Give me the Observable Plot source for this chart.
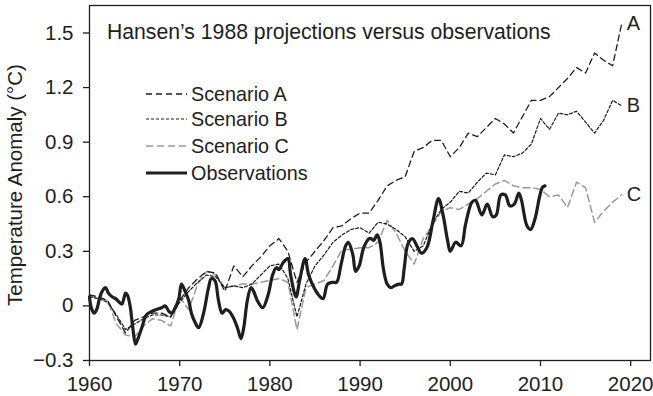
<!DOCTYPE html>
<html><head><meta charset="utf-8">
<script src="https://cdn.jsdelivr.net/npm/d3@7"></script>
<script src="https://cdn.jsdelivr.net/npm/@observablehq/plot@0.6"></script>
<style>
html,body{margin:0;padding:0;background:#fff;}
#chart{position:relative;width:653px;height:396px;}
</style></head><body><div id="chart"></div>
<script>
// ---------- data ----------
const scenarioYears = d3.range(1960, 2020);
const scenarioA = [0.06,0.05,0.03,-0.06,-0.15,-0.08,-0.06,-0.04,-0.04,-0.06,
  0.03,0.10,0.15,0.19,0.18,0.08,0.22,0.16,0.22,0.27,
  0.33,0.37,0.30,0.13,0.24,0.30,0.36,0.43,0.44,0.48,
  0.51,0.51,0.58,0.66,0.69,0.71,0.85,0.87,0.91,0.91,
  0.82,0.87,0.95,0.93,0.98,1.03,1.00,0.95,1.04,1.13,
  1.13,1.15,1.20,1.25,1.31,1.28,1.39,1.35,1.32,1.55];
const scenarioB = [0.05,0.04,0.02,-0.05,-0.13,-0.10,-0.07,-0.05,-0.05,-0.06,
  0.02,0.08,0.13,0.17,0.16,0.10,0.11,0.10,0.12,0.17,
  0.22,0.23,0.15,-0.06,0.12,0.22,0.28,0.35,0.39,0.42,
  0.43,0.40,0.46,0.45,0.42,0.38,0.30,0.33,0.45,0.53,
  0.57,0.63,0.62,0.68,0.73,0.72,0.83,0.82,0.84,0.89,
  1.03,0.97,1.06,1.05,1.07,1.01,0.95,1.02,1.13,1.10];
const scenarioC = [0.06,0.04,0.03,-0.10,-0.16,-0.17,-0.11,-0.07,-0.08,-0.11,
  0.05,-0.02,0.12,0.19,0.17,0.10,0.11,0.12,0.12,0.13,
  0.14,0.15,0.13,-0.13,0.10,0.12,0.14,0.22,0.31,0.31,
  0.32,0.32,0.35,0.47,0.40,0.30,0.23,0.37,0.44,0.52,
  0.54,0.53,0.56,0.59,0.63,0.67,0.69,0.66,0.65,0.65,
  0.64,0.60,0.61,0.54,0.68,0.65,0.46,0.52,0.57,0.61];
const obsYears = [1960.0,1960.2,1960.5,1960.8,1961.1,1961.4,1961.8,1962.1,1962.5,1962.9,
  1963.3,1963.6,1964.0,1964.2,1964.5,1964.8,1965.1,1965.3,1965.8,1966.3,
  1966.9,1967.4,1968.0,1968.4,1968.8,1969.1,1969.5,1969.9,1970.2,1970.6,
  1971.0,1971.3,1971.7,1972.1,1972.6,1973.2,1973.5,1973.9,1974.3,1974.7,
  1975.1,1975.5,1975.9,1976.4,1976.8,1977.1,1977.5,1977.9,1978.2,1978.6,
  1979.2,1979.8,1980.3,1980.7,1981.0,1981.5,1982.0,1982.3,1982.9,1983.3,
  1983.9,1984.3,1984.9,1985.4,1985.9,1986.4,1987.0,1987.4,1987.9,1988.4,
  1988.7,1989.2,1989.5,1989.9,1990.4,1991.0,1991.2,1991.5,1991.9,1992.2,
  1992.6,1993.0,1993.4,1993.8,1994.3,1994.6,1994.9,1995.3,1995.8,1996.3,
  1996.8,1997.4,1998.1,1998.7,1999.2,1999.7,2000.0,2000.6,2001.2,2001.7,
  2002.4,2002.8,2003.5,2004.1,2004.7,2005.1,2005.6,2006.1,2006.6,2007.1,
  2007.6,2007.9,2008.5,2008.9,2009.4,2009.9,2010.2,2010.5];
const obsValues = [0.05,-0.01,-0.04,-0.02,0.04,0.08,0.10,0.07,0.05,0.04,
  0.02,0.01,0.07,0.06,0.00,-0.12,-0.21,-0.19,-0.12,-0.05,
  -0.03,-0.02,-0.01,0.00,-0.03,-0.04,-0.01,0.04,0.12,0.08,
  0.03,-0.04,-0.09,-0.12,-0.05,0.10,0.15,0.14,0.03,-0.04,
  -0.02,-0.03,-0.06,-0.12,-0.18,-0.12,0.03,0.10,0.08,0.03,
  -0.01,0.06,0.17,0.21,0.20,0.24,0.26,0.17,0.05,0.14,
  0.26,0.17,0.10,0.06,0.04,0.12,0.13,0.13,0.23,0.33,
  0.35,0.28,0.19,0.22,0.32,0.37,0.37,0.36,0.39,0.35,
  0.20,0.12,0.10,0.11,0.12,0.12,0.21,0.34,0.37,0.33,
  0.29,0.32,0.47,0.59,0.50,0.36,0.30,0.35,0.33,0.45,
  0.57,0.58,0.50,0.56,0.49,0.50,0.61,0.61,0.55,0.56,
  0.62,0.58,0.44,0.42,0.48,0.60,0.65,0.66];
const seriesNames = ["Scenario A","Scenario B","Scenario C","Observations"];
const endLabels = ["A","B","C"];
const xTicks = [1960,1970,1980,1990,2000,2010,2020];
const xTickLabels = ["1960","1970","1980","1990","2000","2010","2020"];
const yTicks = [-0.3,0,0.3,0.6,0.9,1.2,1.5];
const yTickLabels = ["\u22120.3","0","0.3","0.6","0.9","1.2","1.5"];
const titleText = "Hansen\u2019s 1988 projections versus observations";
const yLabelText = "Temperature Anomaly (\u00B0C)";

// ---------- build ----------
const FONT = '"Liberation Sans", Arial, Helvetica, sans-serif';
const INK = "#1e1e1e";
const toRows = (vals) => scenarioYears.map((yr, i) => ({year: yr, value: vals[i]}));
const rowsA = toRows(scenarioA), rowsB = toRows(scenarioB), rowsC = toRows(scenarioC);
const rowsObs = obsYears.map((yr, i) => ({year: yr, value: obsValues[i]}));
const lastRows = [rowsA, rowsB, rowsC].map((r, i) => ({...r[r.length - 1], label: endLabels[i]}));

const styles = {
  A: {stroke: INK, strokeWidth: 1.3, strokeDasharray: "6,4"},
  B: {stroke: INK, strokeWidth: 1.2, strokeDasharray: "3,2"},
  C: {stroke: "#9a9a9a", strokeWidth: 1.5, strokeDasharray: "7,4"},
  O: {stroke: INK, strokeWidth: 3.2}
};

const chart = Plot.plot({
  width: 653, height: 396,
  marginLeft: 89, marginRight: 3, marginTop: 5, marginBottom: 36,
  style: {fontSize: "20px", fontFamily: FONT, color: INK, background: "#fff"},
  x: {domain: [1960, 2022.2], label: null},
  y: {domain: [-0.3, 1.651], label: null},
  marks: [
    Plot.line(rowsC, {x: "year", y: "value", ...styles.C}),
    Plot.line(rowsB, {x: "year", y: "value", ...styles.B}),
    Plot.line(rowsA, {x: "year", y: "value", ...styles.A}),
    Plot.line(rowsObs, {x: "year", y: "value", ...styles.O, curve: "catmull-rom", strokeLinejoin: "round"}),
    Plot.text(lastRows, {x: "year", y: "value", text: "label", dx: 5, textAnchor: "start", fontSize: 20, fill: INK}),
    Plot.frame({stroke: INK, strokeWidth: 1.3}),
    Plot.axisX({ticks: xTicks, tickFormat: (d) => xTickLabels[xTicks.indexOf(d)], tickSize: 6, tickPadding: 10, fontSize: 20.5, label: null, stroke: INK, strokeWidth: 1.3}),
    Plot.axisY({ticks: yTicks, tickFormat: (d) => yTickLabels[yTicks.indexOf(d)], tickSize: 6, tickPadding: 10, fontSize: 20.5, label: null, stroke: INK, strokeWidth: 1.3})
  ]
});
document.getElementById("chart").appendChild(chart);

// annotations: title, y label, legend
const svg = d3.select(chart);
const g = svg.append("g").attr("font-family", FONT).attr("fill", INK).attr("text-anchor", "start");
g.append("text").attr("x", 107).attr("y", 39).attr("font-size", 21.2).text(titleText);
g.append("text").attr("transform", "translate(22,185) rotate(-90)").attr("text-anchor", "middle")
  .attr("font-size", 20.5).text(yLabelText);
const legendY = [94, 119, 146, 173];
const legendStyles = [styles.A, styles.B, styles.C, styles.O];
seriesNames.forEach((name, i) => {
  const s = legendStyles[i];
  g.append("line").attr("x1", 146).attr("x2", 187).attr("y1", legendY[i]).attr("y2", legendY[i])
    .attr("stroke", s.stroke).attr("stroke-width", s.strokeWidth)
    .attr("stroke-dasharray", s.strokeDasharray || null);
  g.append("text").attr("x", 191).attr("y", legendY[i] + 7).attr("font-size", 19.8).text(name);
});
</script></body></html>
